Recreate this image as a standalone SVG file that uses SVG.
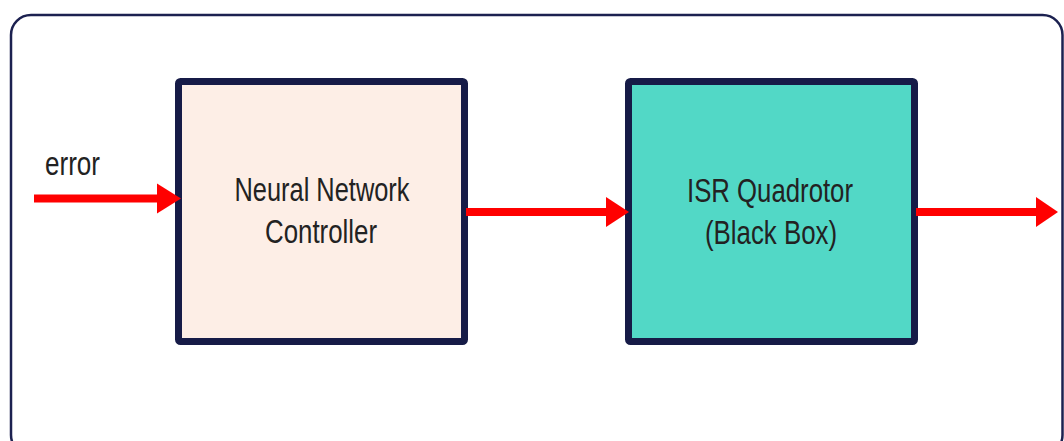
<svg xmlns="http://www.w3.org/2000/svg" width="1064" height="441" viewBox="0 0 1064 441">
  <style>
    .frame { fill: #ffffff; stroke: #1c2150; stroke-width: 2.5; }
    .block { stroke: #161b47; stroke-width: 7; stroke-linejoin: round; }
    .label { font-family: "Liberation Sans", Arial, sans-serif; font-size: 34px; fill: #222222; }
    .wire { stroke: #ff0000; stroke-width: 8; fill: none; }
    .head { fill: #ff0000; }
  </style>

  <rect width="1064" height="441" fill="#ffffff"/>

  <!-- outer frame -->
  <rect class="frame" x="11" y="15" width="1051.5" height="440" rx="20" ry="20"/>

  <!-- blocks -->
  <g id="controller">
    <rect class="block" x="178.5" y="81.5" width="286" height="260" rx="2" fill="#fdeee6"/>
    <text class="label" x="322" y="201" text-anchor="middle" textLength="175" lengthAdjust="spacingAndGlyphs">Neural Network</text>
    <text class="label" x="321" y="243" text-anchor="middle" textLength="112" lengthAdjust="spacingAndGlyphs">Controller</text>
  </g>

  <g id="plant">
    <rect class="block" x="628.5" y="81.5" width="286" height="260" rx="2" fill="#52d8c6"/>
    <text class="label" x="770" y="202" text-anchor="middle" textLength="166" lengthAdjust="spacingAndGlyphs">ISR Quadrotor</text>
    <text class="label" x="771" y="244" text-anchor="middle" textLength="132" lengthAdjust="spacingAndGlyphs">(Black Box)</text>
  </g>

  <!-- signal arrows -->
  <g id="connectors">
    <g id="error-in">
      <line class="wire" x1="34" y1="198.5" x2="160" y2="198.5"/>
      <polygon class="head" points="157,183.5 181,198.5 157,213.5"/>
      <text class="label" x="45" y="175" textLength="55" lengthAdjust="spacingAndGlyphs">error</text>
    </g>
    <g id="control-signal">
      <line class="wire" x1="466" y1="212" x2="609" y2="212"/>
      <polygon class="head" points="606,197 629,212 606,227"/>
    </g>
    <g id="output">
      <line class="wire" x1="916" y1="212" x2="1039" y2="212"/>
      <polygon class="head" points="1036,197 1058,212 1036,227"/>
    </g>
  </g>
</svg>
